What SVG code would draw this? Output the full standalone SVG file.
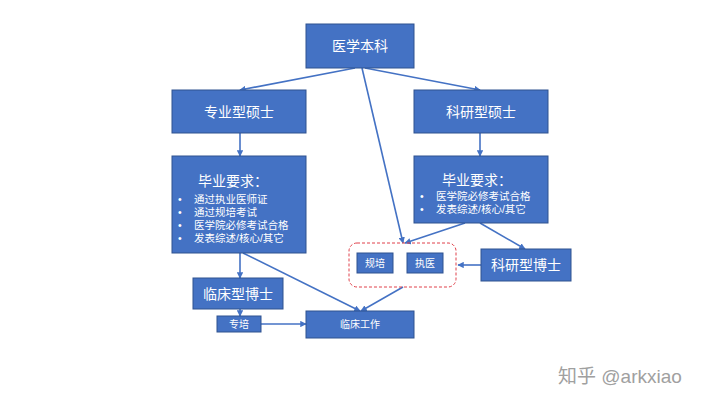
<svg xmlns="http://www.w3.org/2000/svg" width="720" height="405" viewBox="0 0 720 405">
<style>
.b{fill:#4472c4;stroke:#2f528f;stroke-width:1}
.t{fill:#fff;font-family:"Liberation Sans","Noto Sans CJK SC",sans-serif;text-anchor:middle}
.s{fill:#fff;font-family:"Liberation Sans","Noto Sans CJK SC",sans-serif;font-size:10.5px}
.c{stroke:#4472c4;stroke-width:1.6;fill:none;marker-end:url(#a)}
</style>
<defs><marker id="a" viewBox="0 0 10 10" refX="9" refY="5" markerWidth="4" markerHeight="4" orient="auto"><path d="M0,0L10,5L0,10z" fill="#4472c4"/></marker></defs>
<rect width="720" height="405" fill="#fff"/>
<g id="connectors">
<path class="c" d="M355,68L240,90"/>
<path class="c" d="M365,68L480,90"/>
<path class="c" d="M362,68L403,243"/>
<path class="c" d="M240,133V156"/>
<path class="c" d="M480,133V156"/>
<path class="c" d="M465,223L405,243"/>
<path class="c" d="M480,223L525,249"/>
<path class="c" d="M481,265H458"/>
<path class="c" d="M240,253V278"/>
<path class="c" d="M243,253L360,311"/>
<path class="c" d="M240,309V316"/>
<path class="c" d="M261,324H306"/>
<path class="c" d="M403,287L361,311"/>
</g>
<g id="n1"><rect class="b" x="306" y="24" width="108" height="44"/><text class="t" x="360" y="51" font-size="14">医学本科</text></g>
<g id="n2"><rect class="b" x="172" y="90" width="134" height="43"/><text class="t" x="239" y="117" font-size="14">专业型硕士</text></g>
<g id="n3"><rect class="b" x="414" y="90" width="134" height="43"/><text class="t" x="481" y="117" font-size="14">科研型硕士</text></g>
<g id="n4"><rect class="b" x="172" y="156" width="134" height="97"/><text class="t" x="233" y="186" font-size="14">毕业要求：</text>
<text class="s" x="178" y="203">•</text><text class="s" x="194" y="203">通过执业医师证</text>
<text class="s" x="178" y="216">•</text><text class="s" x="194" y="216">通过规培考试</text>
<text class="s" x="178" y="229">•</text><text class="s" x="194" y="229">医学院必修考试合格</text>
<text class="s" x="178" y="242">•</text><text class="s" x="194" y="242">发表综述/核心/其它</text></g>
<g id="n5"><rect class="b" x="414" y="156" width="134" height="67"/><text class="t" x="477" y="185" font-size="14">毕业要求：</text>
<text class="s" x="420" y="200">•</text><text class="s" x="436" y="200">医学院必修考试合格</text>
<text class="s" x="420" y="213">•</text><text class="s" x="436" y="213">发表综述/核心/其它</text></g>
<g id="n6"><rect x="349" y="243" width="107" height="44" rx="8" fill="none" stroke="#e0404a" stroke-width="1" stroke-dasharray="3,2"/>
<rect class="b" x="357" y="253" width="36" height="20"/><text class="t" x="375" y="267" font-size="10">规培</text>
<rect class="b" x="407" y="253" width="36" height="20"/><text class="t" x="425" y="267" font-size="10">执医</text></g>
<g id="n7"><rect class="b" x="481" y="249" width="90" height="32"/><text class="t" x="526" y="270" font-size="14">科研型博士</text></g>
<g id="n8"><rect class="b" x="193" y="278" width="90" height="31"/><text class="t" x="238" y="299" font-size="14">临床型博士</text></g>
<g id="n9"><rect class="b" x="217" y="316" width="44" height="16"/><text class="t" x="239" y="328" font-size="10">专培</text></g>
<g id="n10"><rect class="b" x="306" y="311" width="108" height="27"/><text class="t" x="360" y="328" font-size="10">临床工作</text></g>
<text x="558" y="383" font-family="Liberation Sans,Noto Sans CJK SC,sans-serif" font-size="19" fill="#a0a0a0">知乎 @arkxiao</text>
</svg>
